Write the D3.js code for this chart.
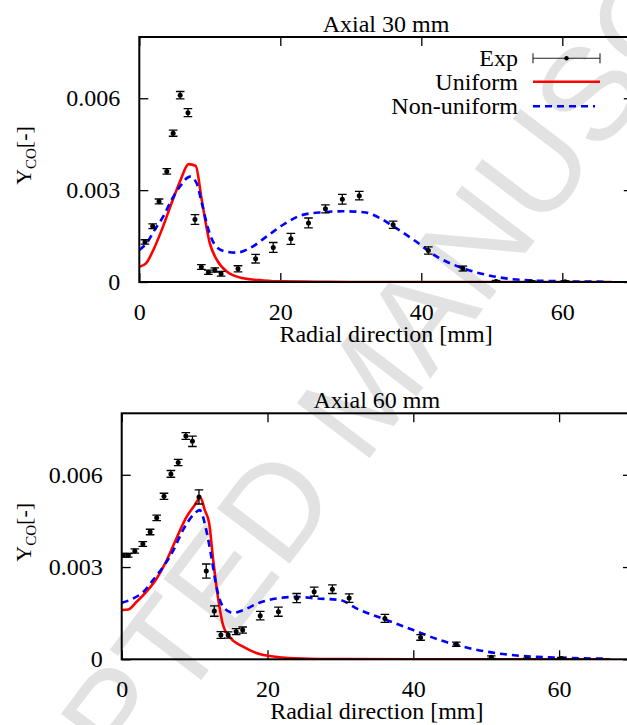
<!DOCTYPE html>
<html><head><meta charset="utf-8">
<script src="https://cdn.jsdelivr.net/npm/d3@7"></script>
<style>body{margin:0;background:#fff}svg{display:block}</style>
</head><body>
<script>
// ---------- data (Y_CO values in units of 1e-3) ----------
const xTicks = [0, 20, 40, 60];
const yTicks = [0, 0.003, 0.006];
const yTickLabels = ["0", "0.003", "0.006"];
const legendLabels = ["Exp", "Uniform", "Non-uniform"];
const panelTitles = ["Axial 30 mm", "Axial 60 mm"];
const watermarkText = "ACCEPTED MANUSCRIPT";

// Axial 30 mm
const expX30 = [0.8, 1.9, 2.8, 3.9, 4.8, 5.8, 6.9, 7.9, 8.8, 9.8, 10.7, 11.6, 14.0, 16.5, 19.0, 21.5, 24.0, 26.4, 28.8, 31.2, 36.0, 41.0, 45.9, 50.6, 55.6, 60.4];
const expY30 = [1.31, 1.82, 2.63, 3.61, 4.86, 6.10, 5.53, 2.04, 0.49, 0.32, 0.39, 0.27, 0.43, 0.76, 1.13, 1.41, 1.93, 2.39, 2.70, 2.82, 1.87, 1.03, 0.44, 0.02, 0.01, 0.01];
const expE30 = [0.07, 0.08, 0.08, 0.09, 0.10, 0.12, 0.13, 0.16, 0.08, 0.07, 0.07, 0.08, 0.10, 0.14, 0.16, 0.18, 0.16, 0.13, 0.16, 0.14, 0.12, 0.12, 0.08, 0.03, 0.03, 0.03];
const uniX30 = [0, 0.95, 2.0, 3.2, 4.6, 5.8, 7.0, 8.0, 8.85, 10.0, 11.0, 12.4, 14.75, 17.6, 20, 25, 30, 40, 50, 60, 67];
const uniY30 = [0.50, 0.61, 1.05, 1.71, 2.59, 3.30, 3.85, 3.79, 2.69, 1.27, 0.72, 0.34, 0.12, 0.05, 0.02, 0.01, 0, 0, 0, 0, 0];
const nonX30 = [0, 1.05, 2.2, 3.4, 4.6, 5.8, 7.2, 8.1, 8.85, 9.8, 10.9, 12.2, 13.8, 15.7, 18.1, 20.4, 23.3, 26.1, 28.9, 31.8, 34.1, 36, 38.9, 42.2, 45.5, 49.3, 54, 58.7, 66];
const nonY30 = [1.05, 1.27, 1.71, 2.14, 2.69, 3.13, 3.44, 3.24, 2.59, 1.71, 1.16, 1.00, 0.96, 1.11, 1.49, 1.87, 2.20, 2.28, 2.31, 2.28, 2.09, 1.82, 1.38, 0.83, 0.48, 0.23, 0.07, 0.03, 0.01];

// Axial 60 mm
const expX60 = [0.22, 0.9, 1.8, 2.9, 3.9, 4.8, 5.8, 6.75, 7.75, 8.8, 9.7, 10.6, 11.6, 12.7, 13.6, 14.6, 15.7, 16.6, 19.0, 21.5, 24.0, 26.4, 28.9, 31.2, 36.1, 41.0, 45.9, 50.7, 55.6, 60.3];
const expY60 = [3.38, 3.38, 3.52, 3.75, 4.14, 4.60, 5.30, 6.03, 6.40, 7.26, 7.09, 5.28, 2.87, 1.57, 0.79, 0.79, 0.90, 0.95, 1.42, 1.55, 1.99, 2.20, 2.28, 1.99, 1.33, 0.71, 0.49, 0.07, 0.01, 0.03];
const expE60 = [0.06, 0.06, 0.07, 0.08, 0.09, 0.09, 0.10, 0.11, 0.10, 0.11, 0.17, 0.23, 0.23, 0.17, 0.11, 0.10, 0.10, 0.10, 0.14, 0.15, 0.15, 0.15, 0.14, 0.14, 0.13, 0.09, 0.07, 0.04, 0.03, 0.03];
const uniX60 = [0, 0.9, 2.05, 3.4, 4.8, 6.2, 7.5, 8.9, 10.0, 10.8, 11.4, 12.0, 12.55, 13.2, 13.9, 14.8, 16.65, 18.9, 22.1, 25.8, 30, 40, 50, 60, 67];
const uniY60 = [1.60, 1.62, 1.87, 2.20, 2.63, 3.23, 3.93, 4.63, 5.01, 5.26, 4.85, 4.42, 3.23, 2.03, 1.11, 0.73, 0.41, 0.17, 0.06, 0.02, 0.01, 0, 0, 0, 0];
const nonX60 = [0, 1.6, 3.0, 4.3, 5.7, 7.1, 8.4, 9.8, 10.7, 11.6, 12.3, 13.0, 13.9, 15.3, 16.65, 18.9, 21.2, 24.0, 26.7, 29.9, 32.4, 36.3, 40, 43.6, 47.7, 52.3, 56.9, 61.9, 66.4];
const nonY60 = [1.84, 1.98, 2.20, 2.58, 3.01, 3.55, 4.20, 4.69, 4.85, 4.20, 3.33, 2.36, 1.71, 1.51, 1.60, 1.84, 1.98, 2.03, 1.98, 1.93, 1.63, 1.28, 0.95, 0.63, 0.36, 0.17, 0.08, 0.04, 0.02];

// ---------- layout ----------
const W = 627, H = 725;
const FONT = "'Liberation Serif','Times New Roman',Times,serif";
const layout = [
  {left: 139.3, right: 632.8, top: 37, bottom: 282, legend: true},
  {left: 121.7, right: 632, top: 413.3, bottom: 659.3, legend: false}
];
const panels = [
  {title: panelTitles[0], ex: expX30, ey: expY30, ee: expE30, ux: uniX30, uy: uniY30, nx: nonX30, ny: nonY30},
  {title: panelTitles[1], ex: expX60, ey: expY60, ee: expE60, ux: uniX60, uy: uniY60, nx: nonX60, ny: nonY60}
];

const svg = d3.select("body").append("svg").attr("width", W).attr("height", H)
  .attr("font-family", FONT);

// ---------- watermark ----------
(function(){
  const t = svg.append("text").text(watermarkText)
    .attr("font-family", "'Liberation Sans',Arial,sans-serif")
    .attr("font-size", 100).attr("fill", "#e2e2e2").attr("xml:space", "preserve");
  const n = t.node();
  const cA = n.getSubStringLength(0, 5) + n.getSubStringLength(5, 1) / 2;   // T
  const cB = n.getSubStringLength(0, 13) + n.getSubStringLength(13, 1) / 2; // S
  const p1 = [167, 646], p2 = [588, 92];
  const dist = Math.hypot(p2[0] - p1[0], p2[1] - p1[1]);
  const fs = 100 * dist / (cB - cA);
  const ang = Math.atan2(p2[1] - p1[1], p2[0] - p1[0]);
  const half = 0.36 * fs;
  const bx = p1[0] - Math.sin(ang) * half, by = p1[1] + Math.cos(ang) * half;
  t.attr("font-size", fs).attr("x", -cA * fs / 100).attr("y", 0)
   .attr("transform", `translate(${bx},${by}) rotate(${ang * 180 / Math.PI})`);
})();

panels.forEach((p, i) => {
  const L = layout[i];
  const x = d3.scaleLinear().domain([0, 70]).range([L.left, L.right]);
  const y = d3.scaleLinear().domain([0, 0.008]).range([L.bottom, L.top]);
  const g = svg.append("g");
  const clipId = "clip" + i;
  svg.append("clipPath").attr("id", clipId).append("rect")
    .attr("x", L.left).attr("y", L.top).attr("width", L.right - L.left).attr("height", L.bottom - L.top);

  // axes
  const ax = (gen, tx, ty, labels) => {
    const a = g.append("g").attr("transform", `translate(${tx},${ty})`).call(gen);
    a.select(".domain").remove();
    a.selectAll("line").attr("stroke", "#000").attr("stroke-width", 1.3);
    a.selectAll("text").attr("font-family", FONT).attr("font-size", 24).attr("fill", "#000");
    if (!labels) a.selectAll("text").remove();
    return a;
  };
  ax(d3.axisLeft(y).tickValues(yTicks).tickFormat((d, k) => yTickLabels[k]).tickSizeInner(-9).tickSizeOuter(0).tickPadding(19), L.left, 0, true);
  ax(d3.axisRight(y).tickValues(yTicks).tickSizeInner(-9).tickSizeOuter(0), L.right, 0, false);
  ax(d3.axisBottom(x).tickValues(xTicks).tickFormat(d3.format("d")).tickSizeInner(-9).tickSizeOuter(0).tickPadding(21), 0, L.bottom, true);
  ax(d3.axisTop(x).tickValues(xTicks).tickSizeInner(-9).tickSizeOuter(0), 0, L.top, false);

  // titles
  const cx = (L.left + L.right) / 2;
  g.append("text").attr("x", cx).attr("y", L.top - 5.5).attr("text-anchor", "middle")
    .attr("font-size", 24).text(p.title);
  g.append("text").attr("x", cx).attr("y", L.bottom + 60).attr("text-anchor", "middle")
    .attr("font-size", 24).text("Radial direction [mm]");
  const yl = g.append("text").attr("transform", `translate(31,${(L.top + L.bottom) / 2 - 4}) rotate(-90)`)
    .attr("text-anchor", "middle").attr("font-size", 22);
  yl.append("tspan").text("Y");
  yl.append("tspan").attr("font-size", 15).attr("dy", 5).text("CO");
  yl.append("tspan").attr("dy", -5).text("[-]");

  // curves
  const plot = g.append("g").attr("clip-path", `url(#${clipId})`);
  const line = d3.line().x(d => x(d[0])).y(d => y(d[1] * 1e-3)).curve(d3.curveMonotoneX);
  plot.append("path").attr("d", line(p.ux.map((v, k) => [v, p.uy[k]])))
    .attr("fill", "none").attr("stroke", "#ff0000").attr("stroke-width", 2.6);
  plot.append("path").attr("d", line(p.nx.map((v, k) => [v, p.ny[k]])))
    .attr("fill", "none").attr("stroke", "#0000ff").attr("stroke-width", 2.6).attr("stroke-dasharray", "7,5");

  // exp points with error bars
  const pts = p.ex.map((v, k) => ({x: v, y: p.ey[k] * 1e-3, e: p.ee[k] * 1e-3}));
  const eg = plot.append("g").attr("stroke", "#000").attr("stroke-width", 1.3);
  pts.forEach(d => {
    const px = x(d.x), y1 = y(d.y - d.e), y2 = y(d.y + d.e);
    eg.append("line").attr("x1", px).attr("x2", px).attr("y1", y1).attr("y2", y2);
    eg.append("line").attr("x1", px - 4.3).attr("x2", px + 4.3).attr("y1", y1).attr("y2", y1);
    eg.append("line").attr("x1", px - 4.3).attr("x2", px + 4.3).attr("y1", y2).attr("y2", y2);
  });
  plot.append("g").selectAll("circle").data(pts).join("circle")
    .attr("cx", d => x(d.x)).attr("cy", d => y(d.y)).attr("r", 2.5).attr("fill", "#000");

  // frame
  g.append("rect").attr("x", L.left).attr("y", L.top).attr("width", L.right - L.left).attr("height", L.bottom - L.top)
    .attr("fill", "none").attr("stroke", "#000").attr("stroke-width", 2);

  // legend
  if (L.legend) {
    const lx = 518, sx1 = 533, sx2 = 600, rows = [58.3, 81.7, 106.3];
    legendLabels.forEach((lab, k) => {
      g.append("text").attr("x", lx).attr("y", rows[k] + 8).attr("text-anchor", "end").attr("font-size", 24).text(lab);
    });
    const lg = g.append("g");
    lg.append("line").attr("x1", sx1).attr("x2", sx2).attr("y1", rows[0]).attr("y2", rows[0]).attr("stroke", "#222").attr("stroke-width", 1.1);
    [sx1, sx2].forEach(v => lg.append("line").attr("x1", v).attr("x2", v).attr("y1", rows[0] - 5).attr("y2", rows[0] + 5).attr("stroke", "#222").attr("stroke-width", 1.1));
    lg.append("circle").attr("cx", (sx1 + sx2) / 2).attr("cy", rows[0]).attr("r", 2.2).attr("fill", "#000");
    lg.append("line").attr("x1", sx1).attr("x2", sx2).attr("y1", rows[1]).attr("y2", rows[1]).attr("stroke", "#ff0000").attr("stroke-width", 2.6);
    lg.append("line").attr("x1", sx1).attr("x2", sx2 - 5).attr("y1", rows[2]).attr("y2", rows[2]).attr("stroke", "#0000ff").attr("stroke-width", 2.6).attr("stroke-dasharray", "7,5");
  }
});
</script>
</body></html>
